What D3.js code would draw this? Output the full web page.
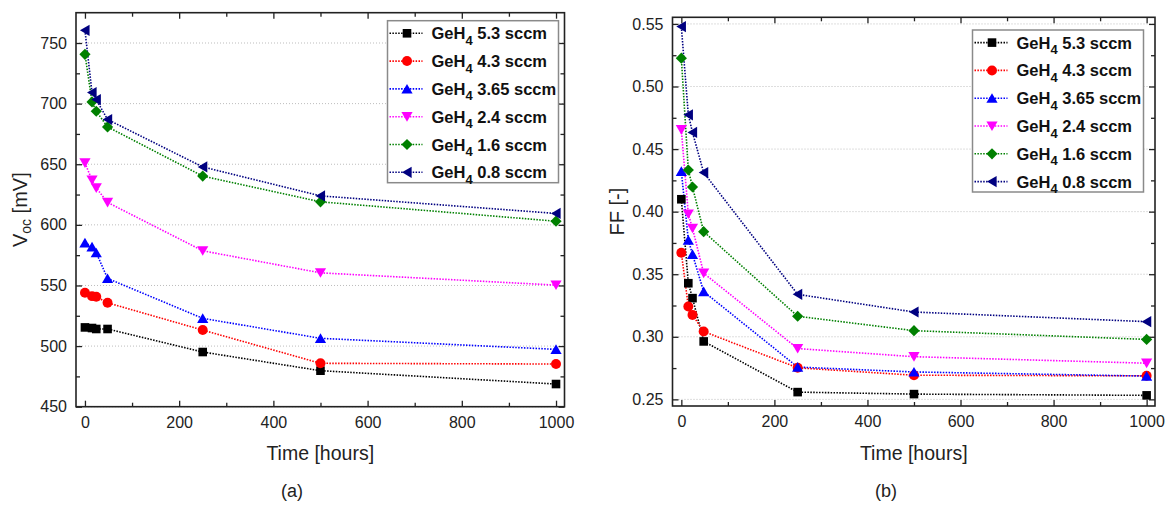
<!DOCTYPE html>
<html>
<head>
<meta charset="utf-8">
<script src="https://cdn.jsdelivr.net/npm/d3@7"></script>
<style>
  html, body { margin: 0; padding: 0; background: #fff; }
  svg { display: block; font-family: "Liberation Sans", Arial, sans-serif; }
</style>
</head>
<body>
<svg id="fig" width="1165" height="511"></svg>
<script>
// Degradation time points (hours)
const hours = [0, 15, 24, 48, 250, 500, 1000];

// GeH4 flow of each sample series (sccm)
const flows = ["5.3", "4.3", "3.65", "2.4", "1.6", "0.8"];
const colors = ["#000000", "#ff0000", "#0000ff", "#ff00ff", "#008000", "#000080"];
const shapes = ["square", "circle", "triUp", "triDown", "diamond", "triLeft"];

// Open-circuit voltage Voc [mV]
const voc53  = [515.4, 514.9, 514.1, 514.1, 495.1, 479.7, 468.7];
const voc43  = [544.0, 541.2, 540.7, 535.7, 513.2, 485.8, 485.2];
const voc365 = [585.2, 581.9, 577.0, 555.8, 522.9, 506.4, 497.3];
const voc24  = [651.1, 636.9, 630.5, 618.5, 578.6, 560.4, 550.3];
const voc16  = [740.7, 701.4, 693.7, 680.8, 640.2, 619.0, 603.0];
const voc08  = [760.5, 709.1, 703.3, 686.9, 647.8, 623.9, 609.4];

// Fill factor FF [-]
const ff53  = [0.4099, 0.3428, 0.3309, 0.2963, 0.2558, 0.2542, 0.2532];
const ff43  = [0.3672, 0.3242, 0.3175, 0.3042, 0.2752, 0.2693, 0.2688];
const ff365 = [0.4322, 0.3773, 0.3659, 0.3361, 0.2758, 0.2719, 0.2686];
const ff24  = [0.4655, 0.3981, 0.3867, 0.3508, 0.2906, 0.2841, 0.2789];
const ff16  = [0.5226, 0.4333, 0.4197, 0.3840, 0.3164, 0.3049, 0.2979];
const ff08  = [0.5479, 0.4774, 0.4633, 0.4312, 0.3339, 0.3198, 0.3121];

// Axis ticks
const xMajor = [0, 200, 400, 600, 800, 1000];
const xMinor = [100, 300, 500, 700, 900];
const vocMajor = [450, 500, 550, 600, 650, 700, 750];
const vocMinor = [475, 525, 575, 625, 675, 725];
const ffMajor = [0.25, 0.30, 0.35, 0.40, 0.45, 0.50, 0.55];
const ffMinor = [0.275, 0.325, 0.375, 0.425, 0.475, 0.525];

const vocSeries = [voc53, voc43, voc365, voc24, voc16, voc08];
const ffSeries = [ff53, ff43, ff365, ff24, ff16, ff08];

const svg = d3.select("#fig");

// Marker path generators, centred on their bounding box
function markerPath(shape) {
  switch (shape) {
    case "square": return "M-4.3,-4.3H4.3V4.3H-4.3Z";
    case "circle": return d3.symbol(d3.symbolCircle, 78)();
    case "triUp": return "M0,-5L5.6,4.6L-5.6,4.6Z";
    case "triDown": return "M0,5L5.6,-4.6L-5.6,-4.6Z";
    case "triLeft": return "M-5,0L4.6,-5.6L4.6,5.6Z";
    case "diamond": return "M0,-5.6L5.6,0L0,5.6L-5.6,0Z";
  }
}

function panel(o) {
  const g = svg.append("g");
  const x = d3.scaleLinear().domain([-19, 1018]).range([o.left, o.right]);
  const y = d3.scaleLinear().domain(o.yDomain).range([o.bottom, o.top]);

  // horizontal dotted grid at major y ticks
  g.append("g").selectAll("line").data(o.yMajor).join("line")
    .attr("x1", o.left).attr("x2", o.right)
    .attr("y1", d => y(d)).attr("y2", d => y(d))
    .attr("stroke", "#bdbdbd").attr("stroke-width", 1)
    .attr("stroke-dasharray", "1,2");

  const strip = sel => { sel.select(".domain").remove(); };
  const style = sel => {
    sel.selectAll(".tick line").attr("stroke", "#222").attr("stroke-width", 1.3);
    sel.selectAll(".tick text").attr("fill", "#222")
      .style("font-size", "16px").style("font-family", "'Liberation Sans', Arial, sans-serif");
  };

  // bottom axis with labels, inward ticks
  g.append("g").attr("transform", `translate(0,${o.bottom})`)
    .call(d3.axisBottom(x).tickValues(xMajor).tickSize(-6).tickPadding(10).tickFormat(d3.format("d")))
    .call(strip).call(style);
  g.append("g").attr("transform", `translate(0,${o.bottom})`)
    .call(d3.axisBottom(x).tickValues(xMinor).tickSize(-4).tickFormat(""))
    .call(strip).call(style);
  // top mirrored
  g.append("g").attr("transform", `translate(0,${o.top})`)
    .call(d3.axisTop(x).tickValues(xMajor).tickSize(-6).tickFormat(""))
    .call(strip).call(style);
  g.append("g").attr("transform", `translate(0,${o.top})`)
    .call(d3.axisTop(x).tickValues(xMinor).tickSize(-4).tickFormat(""))
    .call(strip).call(style);
  // left axis with labels
  g.append("g").attr("transform", `translate(${o.left},0)`)
    .call(d3.axisLeft(y).tickValues(o.yMajor).tickSize(-6).tickPadding(9).tickFormat(o.fmt))
    .call(strip).call(style);
  g.append("g").attr("transform", `translate(${o.left},0)`)
    .call(d3.axisLeft(y).tickValues(o.yMinor).tickSize(-4).tickFormat(""))
    .call(strip).call(style);
  // right mirrored
  g.append("g").attr("transform", `translate(${o.right},0)`)
    .call(d3.axisRight(y).tickValues(o.yMajor).tickSize(-6).tickFormat(""))
    .call(strip).call(style);
  g.append("g").attr("transform", `translate(${o.right},0)`)
    .call(d3.axisRight(y).tickValues(o.yMinor).tickSize(-4).tickFormat(""))
    .call(strip).call(style);

  // frame
  g.append("rect").attr("x", o.left).attr("y", o.top)
    .attr("width", o.right - o.left).attr("height", o.bottom - o.top)
    .attr("fill", "none").attr("stroke", "#222").attr("stroke-width", 1.6);

  // series lines
  const line = d3.line().x((d, i) => x(hours[i])).y(d => y(d));
  o.series.forEach((vals, s) => {
    g.append("path").attr("d", line(vals))
      .attr("fill", "none").attr("stroke", colors[s])
      .attr("stroke-width", 1.6).attr("stroke-dasharray", "1.5,1.4");
  });
  // series markers
  o.series.forEach((vals, s) => {
    g.append("g").selectAll("path").data(vals).join("path")
      .attr("transform", (d, i) => `translate(${x(hours[i])},${y(d)})`)
      .attr("d", markerPath(shapes[s]))
      .attr("fill", colors[s]);
  });

  // legend
  const lg = g.append("g");
  lg.append("rect").attr("x", o.legX).attr("y", o.legY)
    .attr("width", 171).attr("height", 162)
    .attr("fill", "#fff").attr("stroke", "#8a8a8a").attr("stroke-width", 1.5);
  flows.forEach((f, s) => {
    const ry = o.legY + 12.6 + s * 27.8;
    lg.append("line").attr("x1", o.legX + 2).attr("x2", o.legX + 35)
      .attr("y1", ry).attr("y2", ry)
      .attr("stroke", colors[s]).attr("stroke-width", 1.6).attr("stroke-dasharray", "1.5,1.4");
    lg.append("path").attr("transform", `translate(${o.legX + 19.5},${ry})`)
      .attr("d", markerPath(shapes[s])).attr("fill", colors[s]);
    const t = lg.append("text").attr("x", o.legX + 44).attr("y", ry + 6)
      .attr("fill", "#111").style("font-size", "16.5px").style("font-weight", "bold");
    t.append("tspan").text("GeH");
    t.append("tspan").text("4").style("font-size", "13px").attr("dy", 5.5);
    t.append("tspan").text(` ${f} sccm`).attr("dy", -5.5);
  });

  // x title
  g.append("text").attr("x", (o.left + o.right) / 2).attr("y", 460)
    .attr("text-anchor", "middle").attr("fill", "#222")
    .style("font-size", "19.5px").text("Time [hours]");

  // panel tag
  g.append("text").attr("x", o.tagX).attr("y", 497)
    .attr("text-anchor", "middle").attr("fill", "#222")
    .style("font-size", "18px").text(o.tag);

  // y title
  const yt = g.append("text")
    .attr("transform", `translate(${o.yTitleX},${(o.top + o.bottom) / 2}) rotate(-90)`)
    .attr("text-anchor", "middle").attr("fill", "#222").style("font-size", "20px");
  o.yTitle(yt);
}

panel({
  left: 76, right: 564.5, top: 12.7, bottom: 406.7,
  yDomain: [450, 775], yMajor: vocMajor, yMinor: vocMinor, fmt: d3.format("d"),
  series: vocSeries, legX: 387.5, legY: 20.7,
  tag: "(a)", tagX: 292, yTitleX: 27,
  yTitle: t => {
    t.append("tspan").text("V");
    t.append("tspan").text("oc").style("font-size", "14px").attr("dy", 4);
    t.append("tspan").text(" [mV]").attr("dy", -4);
  }
});

panel({
  left: 672.5, right: 1155, top: 17.3, bottom: 406,
  yDomain: [0.2447, 0.5553], yMajor: ffMajor, yMinor: ffMinor, fmt: d3.format(".2f"),
  series: ffSeries, legX: 972.5, legY: 30,
  tag: "(b)", tagX: 886, yTitleX: 624,
  yTitle: t => { t.text("FF [-]"); }
});
</script>
</body>
</html>
